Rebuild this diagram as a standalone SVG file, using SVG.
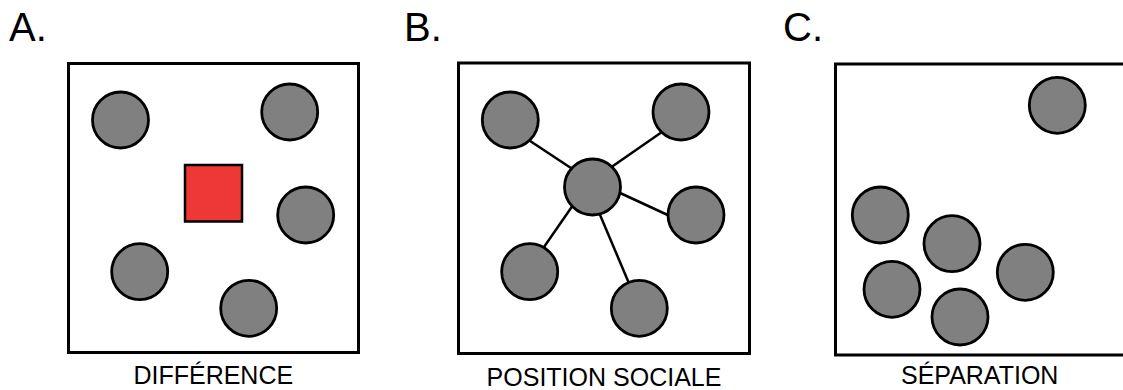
<svg xmlns="http://www.w3.org/2000/svg" width="1123" height="390" viewBox="0 0 1123 390">
<style>
.frame{fill:none;stroke:#000;stroke-width:3}
.node{fill:#808080;stroke:#000;stroke-width:2.8}
.sq{fill:#EE3835;stroke:#000;stroke-width:2.5}
.edge{stroke:#000;stroke-width:2.5;fill:none}
.title{font-family:"Liberation Sans",Arial,sans-serif;font-size:40px;fill:#000}
.label{font-family:"Liberation Sans",Arial,sans-serif;font-size:25px;fill:#000;text-anchor:middle}
</style>
<rect width="1123" height="390" fill="#fff"/>
<g id="panelA">
<text class="title" x="9" y="41">A.</text>
<rect class="frame" x="68.5" y="63.5" width="290" height="289"/>
<g id="a1"><circle class="node" cx="120.5" cy="120" r="28"/></g>
<g id="a2"><circle class="node" cx="289.7" cy="112" r="28"/></g>
<g id="a3"><circle class="node" cx="305.7" cy="215" r="28"/></g>
<g id="a4"><circle class="node" cx="139.7" cy="271.7" r="28"/></g>
<g id="a5"><circle class="node" cx="248.7" cy="308.3" r="28"/></g>
<g id="aSquare"><rect class="sq" x="185" y="165" width="57" height="56.5"/></g>
<text class="label" x="213.3" y="384">DIFFÉRENCE</text>
</g>
<g id="panelB">
<text class="title" x="404" y="41">B.</text>
<rect class="frame" x="458.5" y="63" width="291" height="290.5"/>
<g id="connectors">
<line class="edge" x1="515" y1="131" x2="580" y2="174"/>
<line class="edge" x1="600" y1="175" x2="672" y2="125"/>
<line class="edge" x1="605" y1="186" x2="685" y2="223"/>
<line class="edge" x1="580" y1="195" x2="535" y2="260"/>
<line class="edge" x1="595" y1="203" x2="635" y2="297.5"/>
</g>
<g id="b1"><circle class="node" cx="510.3" cy="120" r="28"/></g>
<g id="b2"><circle class="node" cx="681" cy="112" r="28"/></g>
<g id="bCenter"><circle class="node" cx="592.5" cy="187" r="28"/></g>
<g id="b3"><circle class="node" cx="696" cy="215" r="28"/></g>
<g id="b4"><circle class="node" cx="529.7" cy="271.7" r="28"/></g>
<g id="b5"><circle class="node" cx="639.3" cy="308.3" r="28"/></g>
<text class="label" x="604" y="386">POSITION SOCIALE</text>
</g>
<g id="panelC">
<text class="title" x="783" y="41">C.</text>
<rect class="frame" x="835.5" y="64" width="300" height="291"/>
<g id="c1"><circle class="node" cx="1057.3" cy="105.3" r="28"/></g>
<g id="c2"><circle class="node" cx="880.3" cy="215" r="28"/></g>
<g id="c3"><circle class="node" cx="952" cy="243.7" r="28"/></g>
<g id="c4"><circle class="node" cx="892" cy="289.3" r="28"/></g>
<g id="c5"><circle class="node" cx="1025.3" cy="272.3" r="28"/></g>
<g id="c6"><circle class="node" cx="960" cy="317" r="28"/></g>
<text class="label" x="979.7" y="384">SÉPARATION</text>
</g>
</svg>
